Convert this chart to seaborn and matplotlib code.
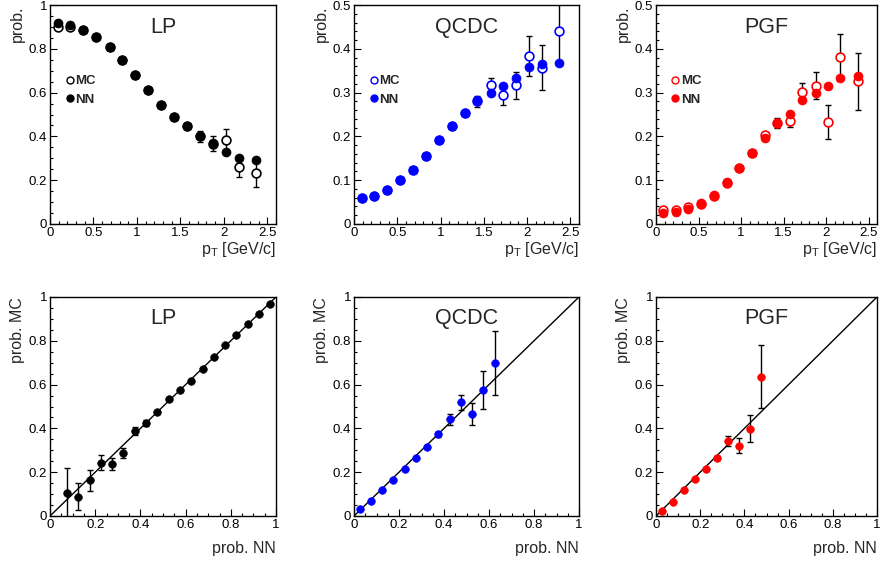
import matplotlib
matplotlib.use("Agg")
import matplotlib.pyplot as plt
from matplotlib.lines import Line2D
from matplotlib.ticker import MultipleLocator, FuncFormatter
import seaborn as sns
import pandas as pd

# ---------------- data ----------------
pt = [0.088, 0.23, 0.38, 0.53, 0.685, 0.83, 0.977, 1.13, 1.277, 1.423,
      1.58, 1.723, 1.877, 2.023, 2.17, 2.373]

lp_nn = [0.916, 0.907, 0.884, 0.854, 0.807, 0.749, 0.679, 0.612, 0.543, 0.487,
         0.447, 0.403, 0.368, 0.327, 0.300, 0.292]
lp_mc = [0.900, 0.898, 0.884, 0.853, 0.806, 0.749, 0.679, 0.612, 0.544, 0.487,
         0.449, 0.401, 0.367, 0.384, 0.262, 0.231]
lp_mc_err = [0.003, 0.003, 0.003, 0.004, 0.004, 0.005, 0.005, 0.006, 0.007, 0.009,
             0.012, 0.025, 0.033, 0.048, 0.047, 0.063]

qcdc_nn = [0.060, 0.065, 0.078, 0.100, 0.124, 0.155, 0.192, 0.223, 0.253, 0.282,
           0.298, 0.314, 0.333, 0.359, 0.365, 0.368]
qcdc_mc = [0.060, 0.065, 0.078, 0.100, 0.124, 0.155, 0.192, 0.223, 0.253, 0.280,
           0.317, 0.295, 0.317, 0.384, 0.357, 0.441]
qcdc_mc_err = [0.001, 0.001, 0.001, 0.002, 0.002, 0.002, 0.003, 0.003, 0.005, 0.013,
               0.016, 0.023, 0.031, 0.045, 0.052, 0.070]

pgf_nn = [0.024, 0.027, 0.035, 0.049, 0.066, 0.097, 0.127, 0.163, 0.197, 0.230,
          0.251, 0.283, 0.298, 0.314, 0.334, 0.339]
pgf_mc = [0.033, 0.033, 0.038, 0.046, 0.064, 0.093, 0.127, 0.163, 0.203, 0.230,
          0.236, 0.301, 0.316, 0.233, 0.381, 0.326]
pgf_mc_err = [0.001, 0.001, 0.001, 0.001, 0.002, 0.002, 0.003, 0.004, 0.006, 0.011,
              0.015, 0.020, 0.031, 0.039, 0.053, 0.065]

cmp_lp_nn = [0.075, 0.125, 0.175, 0.225, 0.275, 0.325, 0.375, 0.425, 0.475, 0.525,
             0.575, 0.625, 0.675, 0.725, 0.775, 0.825, 0.875, 0.925, 0.975]
cmp_lp_mc = [0.107, 0.089, 0.163, 0.244, 0.239, 0.287, 0.387, 0.425, 0.474, 0.535,
             0.574, 0.618, 0.672, 0.727, 0.779, 0.828, 0.877, 0.922, 0.969]
cmp_lp_err = [0.110, 0.063, 0.047, 0.036, 0.027, 0.023, 0.018, 0.014, 0.010, 0.008,
              0.007, 0.006, 0.005, 0.005, 0.004, 0.004, 0.003, 0.003, 0.002]

cmp_qcdc_nn = [0.025, 0.075, 0.125, 0.175, 0.225, 0.275, 0.325, 0.375, 0.425, 0.475,
               0.525, 0.575, 0.625]
cmp_qcdc_mc = [0.031, 0.069, 0.120, 0.166, 0.216, 0.264, 0.313, 0.373, 0.442, 0.520,
               0.466, 0.574, 0.699]
cmp_qcdc_err = [0.003, 0.003, 0.004, 0.005, 0.005, 0.006, 0.008, 0.012, 0.025, 0.034,
                0.050, 0.086, 0.146]

cmp_pgf_nn = [0.025, 0.075, 0.125, 0.175, 0.225, 0.275, 0.325, 0.375, 0.425, 0.475]
cmp_pgf_mc = [0.021, 0.064, 0.117, 0.169, 0.213, 0.265, 0.342, 0.321, 0.399, 0.635]
cmp_pgf_err = [0.002, 0.003, 0.004, 0.005, 0.007, 0.010, 0.022, 0.033, 0.060, 0.144]

labels = ["LP", "QCDC", "PGF"]
colors = ["black", "blue", "red"]

# ---------------- style ----------------
sns.set_style("ticks")
plt.rcParams["font.family"] = ["Liberation Sans", "DejaVu Sans"]
plt.rcParams["mathtext.fontset"] = "custom"
plt.rcParams["mathtext.rm"] = "Liberation Sans"
plt.rcParams["mathtext.it"] = "Liberation Sans"
plt.rcParams.update({
    "xtick.direction": "in", "ytick.direction": "in",
    "xtick.major.size": 5, "ytick.major.size": 5,
    "xtick.minor.size": 2.5, "ytick.minor.size": 2.5,
    "xtick.major.width": 0.8, "ytick.major.width": 0.8,
    "xtick.minor.width": 0.8, "ytick.minor.width": 0.8,
    "axes.linewidth": 1.0,
    "axes.edgecolor": "black",
    "xtick.color": "black", "ytick.color": "black",
    "xtick.labelsize": 9.5, "ytick.labelsize": 9.5,
})

fig = plt.figure(figsize=(8.82, 5.63), dpi=100)
W, H = 882.0, 563.0
col_left = [50, 354, 656]
col_w = [226, 225, 221]
row_top = [5, 297]
row_h = 219

top_data = [(lp_nn, lp_mc, lp_mc_err, 1.0, 0.2, 0.05),
            (qcdc_nn, qcdc_mc, qcdc_mc_err, 0.5, 0.1, 0.02),
            (pgf_nn, pgf_mc, pgf_mc_err, 0.5, 0.1, 0.02)]
bot_data = [(cmp_lp_nn, cmp_lp_mc, cmp_lp_err),
            (cmp_qcdc_nn, cmp_qcdc_mc, cmp_qcdc_err),
            (cmp_pgf_nn, cmp_pgf_mc, cmp_pgf_err)]

fmt = FuncFormatter(lambda v, p: f"{v:g}")


def make_ax(r, c):
    l = col_left[c] / W
    b = (H - row_top[r] - row_h) / H
    return fig.add_axes([l, b, col_w[c] / W, row_h / H])


for c in range(3):
    # ---------- top row: prob vs pT ----------
    ax = make_ax(0, c)
    nn, mc, err, ymax, ymaj, ymin = top_data[c]
    col = colors[c]
    df = pd.DataFrame({"pt": pt, "NN": nn, "MC": mc, "err": err})
    ax.errorbar(df["pt"], df["MC"], yerr=df["err"], fmt="none", ecolor="black",
                elinewidth=1.0, capsize=2.5, capthick=1.0, zorder=2)
    sns.scatterplot(data=df, x="pt", y="MC", ax=ax, marker="o", s=40,
                    facecolor="white", edgecolor=col, linewidth=1.2, zorder=3)
    sns.scatterplot(data=df, x="pt", y="NN", ax=ax, marker="o", s=42,
                    color=col, edgecolor=col, linewidth=0.5, zorder=4)
    ax.set_xlim(0, 2.6)
    ax.set_ylim(0, ymax)
    ax.xaxis.set_major_locator(MultipleLocator(0.5))
    ax.xaxis.set_minor_locator(MultipleLocator(0.1))
    ax.yaxis.set_major_locator(MultipleLocator(ymaj))
    ax.yaxis.set_minor_locator(MultipleLocator(ymin))
    ax.xaxis.set_major_formatter(fmt)
    ax.yaxis.set_major_formatter(fmt)
    ax.tick_params(which="both", top=False, right=False, pad=2)
    ax.set_xlabel(r"p$_{\mathrm{T}}$ [GeV/c]", loc="right", fontsize=11.5, labelpad=1)
    ax.set_ylabel("prob.", loc="top", fontsize=11.5, labelpad=3)
    ax.text(0.5, 0.895, labels[c], transform=ax.transAxes, ha="center",
            va="center", fontsize=15.5)
    handles = [Line2D([], [], marker="o", linestyle="none", markersize=5,
                      markerfacecolor="white", markeredgecolor=col, markeredgewidth=1.0),
               Line2D([], [], marker="o", linestyle="none", markersize=5,
                      markerfacecolor=col, markeredgecolor=col)]
    ax.legend(handles, ["MC", "NN"], loc="center left",
              bbox_to_anchor=(0.04, 0.61), frameon=False, handlelength=0.6,
              handletextpad=0.15, labelspacing=0.45, borderpad=0,
              prop={"weight": "bold", "size": 9.5})
    for s in ax.spines.values():
        s.set_visible(True)

    # ---------- bottom row: MC vs NN ----------
    ax = make_ax(1, c)
    xnn, ymc, yerr = bot_data[c]
    df2 = pd.DataFrame({"nn": xnn, "mc": ymc, "err": yerr})
    ax.plot([0, 1], [0, 1], color="black", linewidth=1.0, zorder=1)
    ax.errorbar(df2["nn"], df2["mc"], yerr=df2["err"], fmt="none", ecolor="black",
                elinewidth=1.0, capsize=2.5, capthick=1.0, zorder=2)
    sns.scatterplot(data=df2, x="nn", y="mc", ax=ax, marker="o", s=30,
                    color=col, edgecolor=col, linewidth=0.5, zorder=3)
    ax.set_xlim(0, 1)
    ax.set_ylim(0, 1)
    ax.xaxis.set_major_locator(MultipleLocator(0.2))
    ax.xaxis.set_minor_locator(MultipleLocator(0.05))
    ax.yaxis.set_major_locator(MultipleLocator(0.2))
    ax.yaxis.set_minor_locator(MultipleLocator(0.05))
    ax.xaxis.set_major_formatter(fmt)
    ax.yaxis.set_major_formatter(fmt)
    ax.tick_params(which="both", top=False, right=False, pad=2)
    ax.set_xlabel("prob. NN", loc="right", fontsize=11.5, labelpad=7)
    ax.set_ylabel("prob. MC", loc="top", fontsize=11.5, labelpad=3)
    ax.text(0.5, 0.9, labels[c], transform=ax.transAxes, ha="center",
            va="center", fontsize=15.5)
    for s in ax.spines.values():
        s.set_visible(True)

fig.savefig("out.png", dpi=100)
